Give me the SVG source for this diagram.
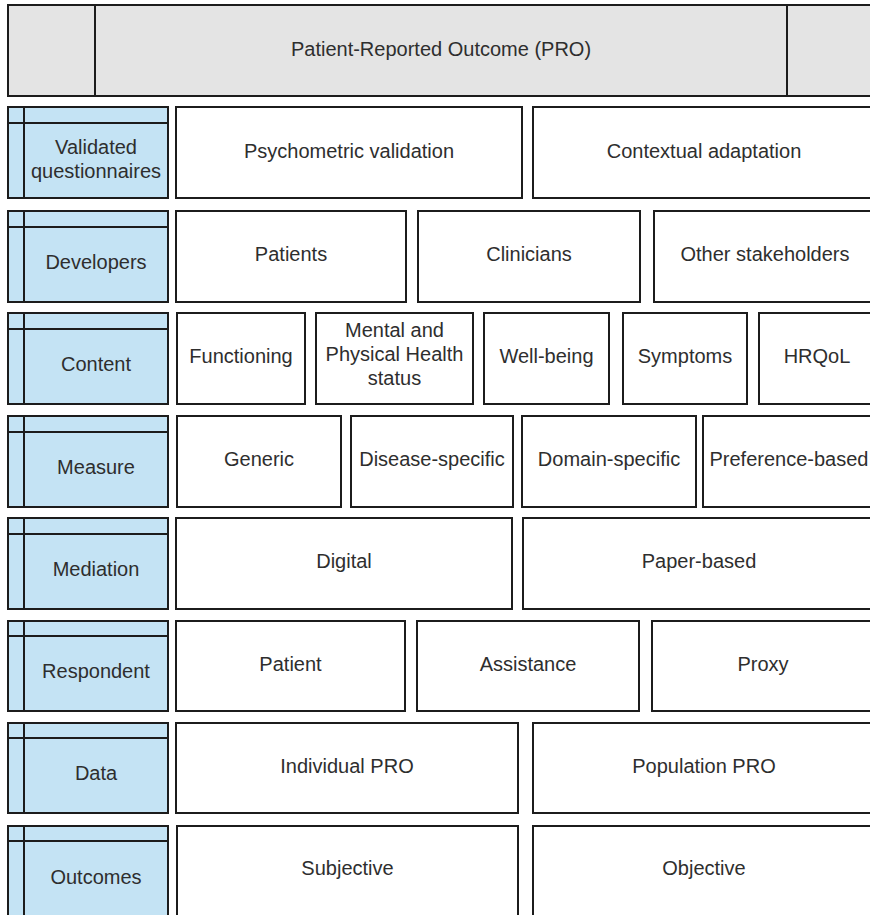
<svg xmlns="http://www.w3.org/2000/svg" width="870" height="915" viewBox="0 0 870 915">
<style>
  .b{fill:#ffffff;stroke:#1c1c1c;stroke-width:2}
  .lab{fill:#c4e3f4;stroke:#1c1c1c;stroke-width:2}
  .ttl{fill:#e4e4e4;stroke:#1c1c1c;stroke-width:2}
  .ln{stroke:#1c1c1c;stroke-width:2;fill:none}
  text{font-family:"Liberation Sans",Arial,sans-serif;font-size:20px;fill:#2e2e2e;text-anchor:middle}
</style>
<rect width="870" height="915" fill="#ffffff"/>

<g id="title">
  <rect class="ttl" x="8" y="5" width="867" height="91"/>
  <line class="ln" x1="95" y1="5" x2="95" y2="96"/>
  <line class="ln" x1="787" y1="5" x2="787" y2="96"/>
  <text x="441" y="56">Patient-Reported Outcome (PRO)</text>
</g>

<!-- Row 1 -->
<g id="label-validated">
  <rect class="lab" x="8" y="107" width="160" height="91"/>
  <line class="ln" x1="24" y1="107" x2="24" y2="198"/>
  <line class="ln" x1="8" y1="123" x2="168" y2="123"/>
  <text x="96" y="154">Validated</text>
  <text x="96" y="178">questionnaires</text>
</g>
<g id="psychometric"><rect class="b" x="176" y="107" width="346" height="91"/><text x="349" y="158">Psychometric validation</text></g>
<g id="contextual"><rect class="b" x="533" y="107" width="342" height="91"/><text x="704" y="158">Contextual adaptation</text></g>

<!-- Row 2 -->
<g id="label-developers">
  <rect class="lab" x="8" y="211" width="160" height="91"/>
  <line class="ln" x1="24" y1="211" x2="24" y2="302"/>
  <line class="ln" x1="8" y1="227" x2="168" y2="227"/>
  <text x="96" y="269">Developers</text>
</g>
<g id="patients"><rect class="b" x="176" y="211" width="230" height="91"/><text x="291" y="261">Patients</text></g>
<g id="clinicians"><rect class="b" x="418" y="211" width="222" height="91"/><text x="529" y="261">Clinicians</text></g>
<g id="stakeholders"><rect class="b" x="654" y="211" width="221" height="91"/><text x="765" y="261">Other stakeholders</text></g>

<!-- Row 3 -->
<g id="label-content">
  <rect class="lab" x="8" y="313" width="160" height="91"/>
  <line class="ln" x1="24" y1="313" x2="24" y2="404"/>
  <line class="ln" x1="8" y1="329" x2="168" y2="329"/>
  <text x="96" y="371">Content</text>
</g>
<g id="functioning"><rect class="b" x="177" y="313" width="128" height="91"/><text x="241" y="363">Functioning</text></g>
<g id="mental"><rect class="b" x="316" y="313" width="157" height="91"/>
  <text x="394.5" y="337">Mental and</text>
  <text x="394.5" y="361">Physical Health</text>
  <text x="394.5" y="385">status</text>
</g>
<g id="wellbeing"><rect class="b" x="484" y="313" width="125" height="91"/><text x="546.5" y="363">Well-being</text></g>
<g id="symptoms"><rect class="b" x="623" y="313" width="124" height="91"/><text x="685" y="363">Symptoms</text></g>
<g id="hrqol"><rect class="b" x="759" y="313" width="116" height="91"/><text x="817" y="363">HRQoL</text></g>

<!-- Row 4 -->
<g id="label-measure">
  <rect class="lab" x="8" y="416" width="160" height="91"/>
  <line class="ln" x1="24" y1="416" x2="24" y2="507"/>
  <line class="ln" x1="8" y1="432" x2="168" y2="432"/>
  <text x="96" y="474">Measure</text>
</g>
<g id="generic"><rect class="b" x="177" y="416" width="164" height="91"/><text x="259" y="466">Generic</text></g>
<g id="disease"><rect class="b" x="351" y="416" width="162" height="91"/><text x="432" y="466">Disease-specific</text></g>
<g id="domain"><rect class="b" x="522" y="416" width="174" height="91"/><text x="609" y="466">Domain-specific</text></g>
<g id="preference"><rect class="b" x="703" y="416" width="172" height="91"/><text x="789" y="466">Preference-based</text></g>

<!-- Row 5 -->
<g id="label-mediation">
  <rect class="lab" x="8" y="518" width="160" height="91"/>
  <line class="ln" x1="24" y1="518" x2="24" y2="609"/>
  <line class="ln" x1="8" y1="534" x2="168" y2="534"/>
  <text x="96" y="576">Mediation</text>
</g>
<g id="digital"><rect class="b" x="176" y="518" width="336" height="91"/><text x="344" y="568">Digital</text></g>
<g id="paper"><rect class="b" x="523" y="518" width="352" height="91"/><text x="699" y="568">Paper-based</text></g>

<!-- Row 6 -->
<g id="label-respondent">
  <rect class="lab" x="8" y="621" width="160" height="90"/>
  <line class="ln" x1="24" y1="621" x2="24" y2="711"/>
  <line class="ln" x1="8" y1="636" x2="168" y2="636"/>
  <text x="96" y="678">Respondent</text>
</g>
<g id="patient"><rect class="b" x="176" y="621" width="229" height="90"/><text x="290.5" y="671">Patient</text></g>
<g id="assistance"><rect class="b" x="417" y="621" width="222" height="90"/><text x="528" y="671">Assistance</text></g>
<g id="proxy"><rect class="b" x="652" y="621" width="223" height="90"/><text x="763" y="671">Proxy</text></g>

<!-- Row 7 -->
<g id="label-data">
  <rect class="lab" x="8" y="723" width="160" height="90"/>
  <line class="ln" x1="24" y1="723" x2="24" y2="813"/>
  <line class="ln" x1="8" y1="738" x2="168" y2="738"/>
  <text x="96" y="780">Data</text>
</g>
<g id="individual"><rect class="b" x="176" y="723" width="342" height="90"/><text x="347" y="773">Individual PRO</text></g>
<g id="population"><rect class="b" x="533" y="723" width="342" height="90"/><text x="704" y="773">Population PRO</text></g>

<!-- Row 8 -->
<g id="label-outcomes">
  <rect class="lab" x="8" y="826" width="160" height="91"/>
  <line class="ln" x1="24" y1="826" x2="24" y2="917"/>
  <line class="ln" x1="8" y1="841" x2="168" y2="841"/>
  <text x="96" y="884">Outcomes</text>
</g>
<g id="subjective"><rect class="b" x="177" y="826" width="341" height="91"/><text x="347.5" y="875">Subjective</text></g>
<g id="objective"><rect class="b" x="533" y="826" width="342" height="91"/><text x="704" y="875">Objective</text></g>

<g id="connectors"></g>
</svg>
